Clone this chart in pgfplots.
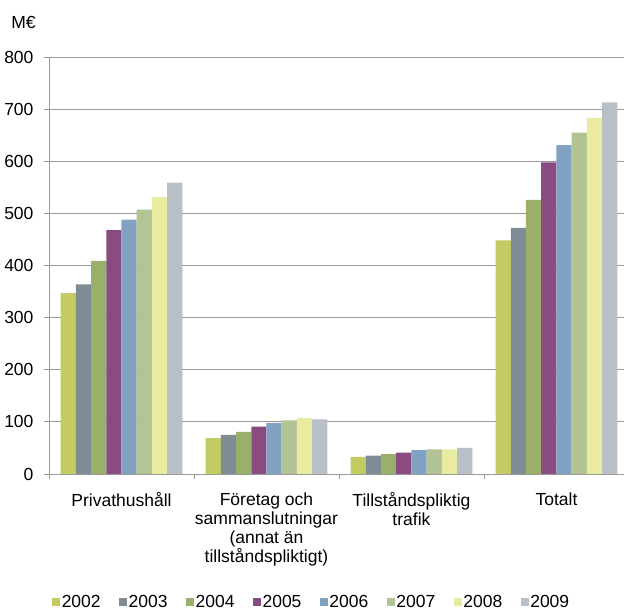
\documentclass[border=0pt]{standalone}
\usepackage{fontspec}
\setmainfont{Liberation Sans}
\usepackage{pgfplots}
\usepackage{pgfplotstable}
\pgfplotsset{compat=1.18}
\definecolor{c02}{HTML}{C5CB63}
\definecolor{c03}{HTML}{808C94}
\definecolor{c04}{HTML}{9AB06A}
\definecolor{c05}{HTML}{8A4B80}
\definecolor{c06}{HTML}{82A2C4}
\definecolor{c07}{HTML}{B2C394}
\definecolor{c08}{HTML}{E8EBA0}
\definecolor{c09}{HTML}{B8BFC6}
\definecolor{gridc}{HTML}{999999}
\pgfplotstableread{
x a b c d e f g h
0 347 364 409 468 488 507 531 559
1 69 75 81 91 98 103 107 105
2 33 35 38 41 46 47 47 50
3 448 472 526 598 631 655 683 713
}\data
\pgfplotsset{
  mybar/.style={fill=#1, draw=none,
    legend image code/.code={\fill[##1] (0pt,-4pt) rectangle (8pt,4pt);}},
}
\begin{document}
\begin{tikzpicture}
\begin{axis}[
  name=ax, scale only axis, width=575pt, height=417pt,
  xmin=-0.5, xmax=3.466, ymin=0, ymax=800,
  ybar=0pt, bar width=0.105,
  axis x line*=bottom, axis y line*=left,
  axis line style={gridc, line width=0.8pt, -},
  ymajorgrids, grid style={gridc, line width=0.8pt},
  ytick={0,100,...,800},
  xtick={0,1,2,3},
  xticklabels={Privathushåll, {Företag och\\sammanslutningar\\(annat än\\tillståndspliktigt)}, {Tillståndspliktig\\trafik}, Totalt},
  xtick style={draw=none},
  extra x ticks={-0.5,0.5,1.5,2.5},
  extra x tick labels={},
  extra x tick style={xtick style={draw=gridc, line width=0.8pt}},
  tick align=outside,
  major tick length=5pt,
  ytick style={draw=gridc, line width=0.8pt},
  /pgf/number format/assume math mode=true,
  tick label style={font=\fontsize{17.5}{19}\selectfont},
  yticklabel style={xshift=-7pt},
  xticklabel style={align=center, yshift=-10pt},
  legend columns=8,
  legend style={at={(axis description cs:0.4565,-0.307)}, anchor=center,
    draw=none, fill=none, font=\fontsize{17.5}{19}\selectfont,
    /tikz/every even column/.append style={column sep=17pt},
    nodes={inner sep=1.5pt}},
]
\addplot[mybar=c02] table[x=x,y=a]{\data};
\addplot[mybar=c03] table[x=x,y=b]{\data};
\addplot[mybar=c04] table[x=x,y=c]{\data};
\addplot[mybar=c05] table[x=x,y=d]{\data};
\addplot[mybar=c06] table[x=x,y=e]{\data};
\addplot[mybar=c07] table[x=x,y=f]{\data};
\addplot[mybar=c08] table[x=x,y=g]{\data};
\addplot[mybar=c09] table[x=x,y=h]{\data};
\legend{2002,2003,2004,2005,2006,2007,2008,2009}
\end{axis}
\node[font=\fontsize{17.5}{19}\selectfont] at ([xshift=-25.5pt,yshift=35pt]ax.north west) {M€};
\pgfresetboundingbox
\path[use as bounding box] ([xshift=-49pt,yshift=-136pt]ax.south west) rectangle ([yshift=57pt]ax.north east);
\end{tikzpicture}
\end{document}
